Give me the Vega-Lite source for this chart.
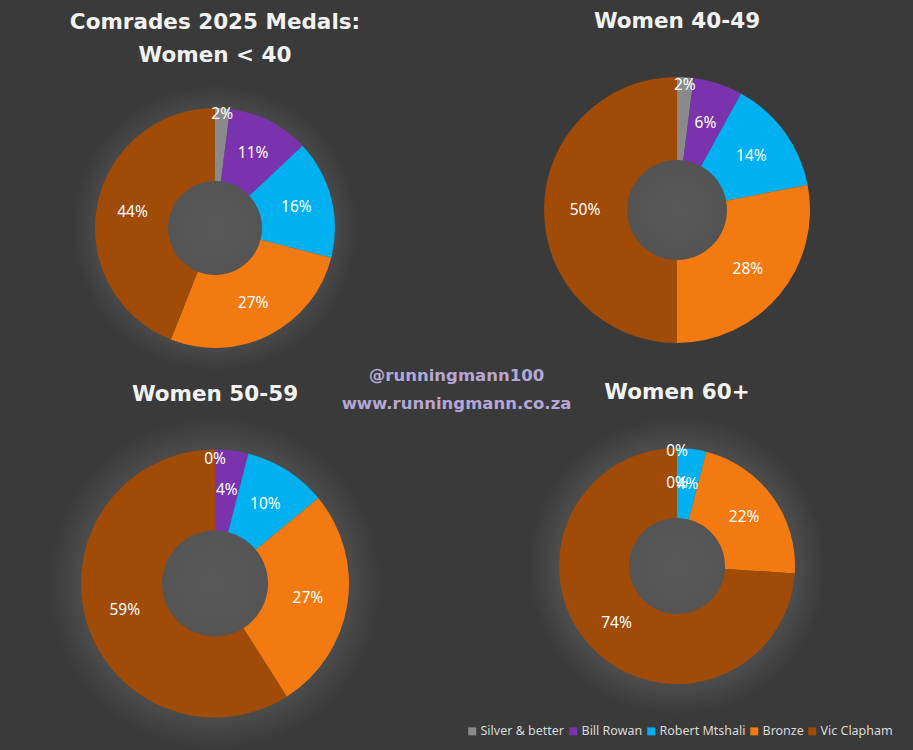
{
  "$schema": "https://vega.github.io/schema/vega-lite/v6.json",
  "background": "#3a3a3a",
  "padding": {"top": 10, "left": 0, "right": 0, "bottom": 0},
  "config": {
    "view": {"stroke": null},
    "title": {"color": "#F2F2F2", "font": "DejaVu Sans", "fontWeight": "bold", "fontSize": 21.5, "anchor": "middle", "baseline": "middle", "lineHeight": 33}
  },
  "datasets": {
    "medals": [
      {"group": "Women < 40", "medal": "Silver & better", "rank": 1, "share": 0.02},
      {"group": "Women < 40", "medal": "Bill Rowan", "rank": 2, "share": 0.11},
      {"group": "Women < 40", "medal": "Robert Mtshali", "rank": 3, "share": 0.16},
      {"group": "Women < 40", "medal": "Bronze", "rank": 4, "share": 0.27},
      {"group": "Women < 40", "medal": "Vic Clapham", "rank": 5, "share": 0.44},
      {"group": "Women 40-49", "medal": "Silver & better", "rank": 1, "share": 0.02},
      {"group": "Women 40-49", "medal": "Bill Rowan", "rank": 2, "share": 0.06},
      {"group": "Women 40-49", "medal": "Robert Mtshali", "rank": 3, "share": 0.14},
      {"group": "Women 40-49", "medal": "Bronze", "rank": 4, "share": 0.28},
      {"group": "Women 40-49", "medal": "Vic Clapham", "rank": 5, "share": 0.50},
      {"group": "Women 50-59", "medal": "Silver & better", "rank": 1, "share": 0.0},
      {"group": "Women 50-59", "medal": "Bill Rowan", "rank": 2, "share": 0.04},
      {"group": "Women 50-59", "medal": "Robert Mtshali", "rank": 3, "share": 0.10},
      {"group": "Women 50-59", "medal": "Bronze", "rank": 4, "share": 0.27},
      {"group": "Women 50-59", "medal": "Vic Clapham", "rank": 5, "share": 0.59},
      {"group": "Women 60+", "medal": "Silver & better", "rank": 1, "share": 0.0},
      {"group": "Women 60+", "medal": "Bill Rowan", "rank": 2, "share": 0.0},
      {"group": "Women 60+", "medal": "Robert Mtshali", "rank": 3, "share": 0.04},
      {"group": "Women 60+", "medal": "Bronze", "rank": 4, "share": 0.22},
      {"group": "Women 60+", "medal": "Vic Clapham", "rank": 5, "share": 0.74}
    ]
  },
  "data": {"name": "medals"},
  "title": {"text": ["@runningmann100", "www.runningmann.co.za"], "color": "#b4a7d6", "fontSize": 16.5, "lineHeight": 28, "offset": -402, "frame": "bounds"},
  "columns": 2,
  "align": "each",
  "bounds": "flush",
  "spacing": {"row": 46, "column": 11},
  "resolve": {"legend": {"color": "independent"}},
  "concat": [
    {
      "width": 430,
      "height": 286,
      "title": {"text": ["Comrades 2025 Medals:", "Women < 40"], "offset": 19},
      "view": {"stroke": null, "fill": {"gradient": "radial", "x1": 0.5, "y1": 0.5, "r1": 0, "x2": 0.5, "y2": 0.5, "r2": 0.333, "stops": [{"offset": 0, "color": "#5a5a5a"}, {"offset": 0.8, "color": "#4c4c4c"}, {"offset": 1, "color": "#3a3a3a"}]}},
      "transform": [{"filter": "datum.group === 'Women < 40'"}],
      "layer": [
        {
          "mark": {"type": "arc", "outerRadius": 120, "innerRadius": 47},
          "encoding": {
            "theta": {"field": "share", "type": "quantitative", "stack": true},
            "order": {"field": "rank", "type": "quantitative"},
            "color": {"field": "medal", "type": "nominal", "legend": null, "scale": {"domain": ["Silver & better", "Bill Rowan", "Robert Mtshali", "Bronze", "Vic Clapham"], "range": ["#8a8a8a", "#7a33ad", "#00b0f0", "#f27a11", "#a04b08"]}}
          }
        },
        {
          "mark": {"type": "text", "radius": 84, "fill": "#ffffff", "font": "Noto Sans", "fontSize": 15.5},
          "encoding": {
            "theta": {"field": "share", "type": "quantitative", "stack": true},
            "order": {"field": "rank", "type": "quantitative"},
            "text": {"condition": {"test": "datum.medal === 'Silver & better'", "value": ""}, "field": "share", "type": "quantitative", "format": ".0%"}
          }
        },
        {
          "transform": [{"filter": "datum.medal === 'Silver & better'"}],
          "mark": {"type": "text", "radius": 114, "fill": "#ffffff", "font": "Noto Sans", "fontSize": 15.5},
          "encoding": {
            "theta": {"field": "share", "type": "quantitative", "stack": true},
            "text": {"field": "share", "type": "quantitative", "format": ".0%"}
          }
        }
      ]
    },
    {
      "width": 472,
      "height": 250,
      "title": {"text": "Women 40-49", "offset": 45},
      "view": {"stroke": null, "fill": {"gradient": "radial", "x1": 0.5, "y1": 0.5, "r1": 0, "x2": 0.5, "y2": 0.5, "r2": 0.265, "stops": [{"offset": 0, "color": "#5a5a5a"}, {"offset": 0.8, "color": "#4c4c4c"}, {"offset": 1, "color": "#3a3a3a"}]}},
      "transform": [{"filter": "datum.group === 'Women 40-49'"}],
      "layer": [
        {
          "mark": {"type": "arc", "outerRadius": 133, "innerRadius": 50},
          "encoding": {
            "theta": {"field": "share", "type": "quantitative", "stack": true},
            "order": {"field": "rank", "type": "quantitative"},
            "color": {"field": "medal", "type": "nominal", "legend": null, "scale": {"domain": ["Silver & better", "Bill Rowan", "Robert Mtshali", "Bronze", "Vic Clapham"], "range": ["#8a8a8a", "#7a33ad", "#00b0f0", "#f27a11", "#a04b08"]}}
          }
        },
        {
          "mark": {"type": "text", "radius": 92, "fill": "#ffffff", "font": "Noto Sans", "fontSize": 15.5},
          "encoding": {
            "theta": {"field": "share", "type": "quantitative", "stack": true},
            "order": {"field": "rank", "type": "quantitative"},
            "text": {"condition": {"test": "datum.medal === 'Silver & better'", "value": ""}, "field": "share", "type": "quantitative", "format": ".0%"}
          }
        },
        {
          "transform": [{"filter": "datum.medal === 'Silver & better'"}],
          "mark": {"type": "text", "radius": 125, "fill": "#ffffff", "font": "Noto Sans", "fontSize": 15.5},
          "encoding": {
            "theta": {"field": "share", "type": "quantitative", "stack": true},
            "text": {"field": "share", "type": "quantitative", "format": ".0%"}
          }
        }
      ]
    },
    {
      "width": 430,
      "height": 333,
      "title": {"text": "Women 50-59", "offset": 12},
      "view": {"stroke": null, "fill": {"gradient": "radial", "x1": 0.5, "y1": 0.5, "r1": 0, "x2": 0.5, "y2": 0.5, "r2": 0.387, "stops": [{"offset": 0, "color": "#5a5a5a"}, {"offset": 0.8, "color": "#4c4c4c"}, {"offset": 1, "color": "#3a3a3a"}]}},
      "transform": [{"filter": "datum.group === 'Women 50-59'"}],
      "layer": [
        {
          "mark": {"type": "arc", "outerRadius": 134, "innerRadius": 53},
          "encoding": {
            "theta": {"field": "share", "type": "quantitative", "stack": true},
            "order": {"field": "rank", "type": "quantitative"},
            "color": {"field": "medal", "type": "nominal", "legend": null, "scale": {"domain": ["Silver & better", "Bill Rowan", "Robert Mtshali", "Bronze", "Vic Clapham"], "range": ["#8a8a8a", "#7a33ad", "#00b0f0", "#f27a11", "#a04b08"]}}
          }
        },
        {
          "mark": {"type": "text", "radius": 94, "fill": "#ffffff", "font": "Noto Sans", "fontSize": 15.5},
          "encoding": {
            "theta": {"field": "share", "type": "quantitative", "stack": true},
            "order": {"field": "rank", "type": "quantitative"},
            "text": {"condition": {"test": "datum.medal === 'Silver & better'", "value": ""}, "field": "share", "type": "quantitative", "format": ".0%"}
          }
        },
        {
          "transform": [{"filter": "datum.medal === 'Silver & better'"}],
          "mark": {"type": "text", "radius": 125, "fill": "#ffffff", "font": "Noto Sans", "fontSize": 15.5},
          "encoding": {
            "theta": {"field": "share", "type": "quantitative", "stack": true},
            "text": {"field": "share", "type": "quantitative", "format": ".0%"}
          }
        }
      ]
    },
    {
      "width": 472,
      "height": 298,
      "title": {"text": "Women 60+", "offset": 14},
      "view": {"stroke": null, "fill": {"gradient": "radial", "x1": 0.5, "y1": 0.5, "r1": 0, "x2": 0.5, "y2": 0.5, "r2": 0.316, "stops": [{"offset": 0, "color": "#5a5a5a"}, {"offset": 0.8, "color": "#4c4c4c"}, {"offset": 1, "color": "#3a3a3a"}]}},
      "transform": [{"filter": "datum.group === 'Women 60+'"}],
      "layer": [
        {
          "mark": {"type": "arc", "outerRadius": 118, "innerRadius": 48},
          "encoding": {
            "theta": {"field": "share", "type": "quantitative", "stack": true},
            "order": {"field": "rank", "type": "quantitative"},
            "color": {
              "field": "medal",
              "type": "nominal",
              "scale": {"domain": ["Silver & better", "Bill Rowan", "Robert Mtshali", "Bronze", "Vic Clapham"], "range": ["#8a8a8a", "#7a33ad", "#00b0f0", "#f27a11", "#a04b08"]},
              "legend": {"orient": "none", "legendX": 25, "legendY": 308, "direction": "horizontal", "columns": 5, "title": null, "symbolType": "square", "symbolSize": 64, "symbolStrokeWidth": 0, "labelColor": "#d9d9d9", "labelFont": "Noto Sans", "labelFontSize": 12.5, "labelOffset": 2, "columnPadding": 2}
            }
          }
        },
        {
          "mark": {"type": "text", "radius": 83, "fill": "#ffffff", "font": "Noto Sans", "fontSize": 15.5},
          "encoding": {
            "theta": {"field": "share", "type": "quantitative", "stack": true},
            "order": {"field": "rank", "type": "quantitative"},
            "text": {"condition": {"test": "datum.medal === 'Silver & better'", "value": ""}, "field": "share", "type": "quantitative", "format": ".0%"}
          }
        },
        {
          "transform": [{"filter": "datum.medal === 'Silver & better'"}],
          "mark": {"type": "text", "radius": 115, "fill": "#ffffff", "font": "Noto Sans", "fontSize": 15.5},
          "encoding": {
            "theta": {"field": "share", "type": "quantitative", "stack": true},
            "text": {"field": "share", "type": "quantitative", "format": ".0%"}
          }
        }
      ]
    }
  ]
}
